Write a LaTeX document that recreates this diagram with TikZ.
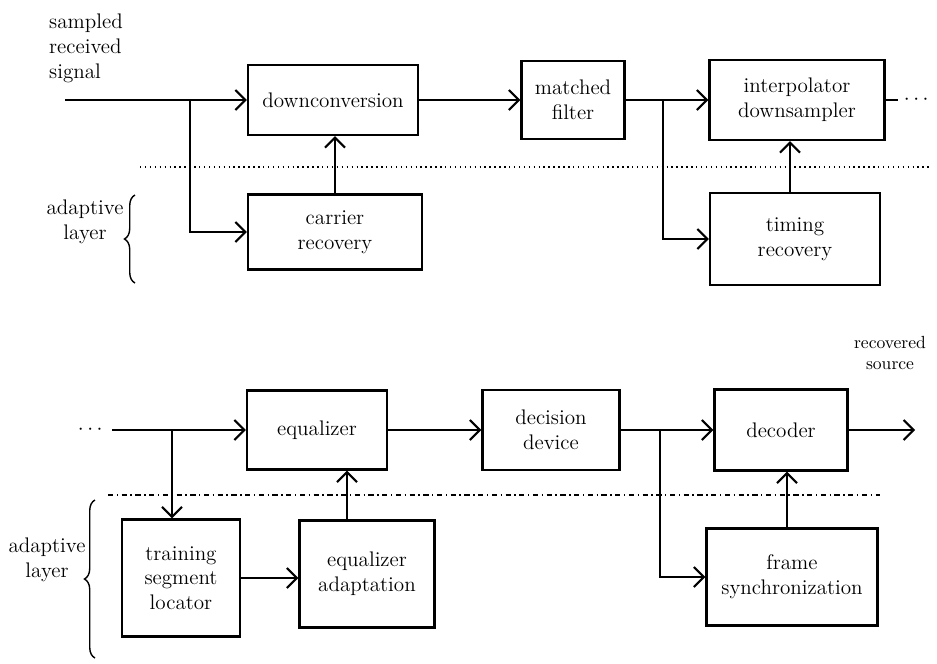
\documentclass[tikz,border=0pt]{standalone}
\usepackage{amsmath,amssymb}
\usetikzlibrary{arrows.meta,decorations.pathreplacing}

\begin{document}
\begin{tikzpicture}[x=0.2mm, y=-0.2mm, every node/.style={font=\large}, >={Straight Barb[length=2mm]},
	blk/.style={draw, line width=1.2pt, align=center, inner sep=0pt},
	sig/.style={line width=1.2pt}]
	\useasboundingbox (0,0) rectangle (937,663);
	% upper row: front end
	\node[align=left, anchor=north west] (sampled) at (43,8) {sampled\\received\\signal};
	\coordinate (in) at (65,100);
	\coordinate (split1) at (190,100);
	\node[blk, minimum width=34mm, minimum height=14mm] (down) at (333,100) {downconversion};
	\node[blk, minimum width=34.8mm, minimum height=15mm] (carrier) at (335,232) {carrier\\recovery};
	\node[blk, minimum width=20.6mm, minimum height=15.6mm] (matched) at (573,100) {matched\\filter};
	\coordinate (split2) at (663,100);
	\node[blk, minimum width=35mm, minimum height=16mm] (interp) at (797,100) {interpolator\\downsampler};
	\node[blk, minimum width=34mm, minimum height=18.4mm] (timing) at (795,239) {timing\\recovery};
	\node (more1) at (918,100) {$\cdots$};
	\draw[sig, ->] (in) -- (down);
	\draw[sig, ->] (split1) |- (carrier);
	\draw[sig, ->] (carrier.north) -- (carrier.north |- down.south);
	\draw[sig, ->] (down) -- (matched);
	\draw[sig, ->] (matched) -- (interp);
	\draw[sig, ->] (split2) |- (timing);
	\draw[sig, ->] ([xshift=-1mm]timing.north) -- ([xshift=-1mm]timing.north |- interp.south);
	\draw[sig] (interp) -- (more1);
	\draw[thick, dotted] (140,167) -- (930,167);
	\node[align=center] (adapt1) at (85,222) {adaptive\\layer};
	\draw[thick, decorate, decoration={brace, amplitude=6pt}] (135,283) -- (135,195);
	% lower row: back end
	\node (more2) at (92,430) {$\cdots$};
	\coordinate (split3) at (172,430);
	\node[blk, minimum width=28mm, minimum height=15.8mm] (eq) at (317,430) {equalizer};
	\node[blk, minimum width=27.4mm, minimum height=16mm] (decision) at (551,430) {decision\\device};
	\coordinate (split4) at (660,430);
	\node[blk, minimum width=26.6mm, minimum height=16.2mm] (decoder) at (781,430) {decoder};
	\coordinate (out) at (915,430);
	\node[align=center, font=\normalsize] (recsrc) at (890,353) {recovered\\source};
	\node[blk, minimum width=23.6mm, minimum height=23.4mm] (train) at (181,578) {training\\segment\\locator};
	\node[blk, minimum width=27mm, minimum height=21.4mm] (eqadapt) at (367,574) {equalizer\\adaptation};
	\node[blk, minimum width=34.2mm, minimum height=19.4mm] (frame) at (792,577) {frame\\synchronization};
	\draw[sig, ->] (more2) -- (eq);
	\draw[sig, ->] (split3) -- (split3 |- train.north);
	\draw[sig, ->] (train.east) -- (train.east -| eqadapt.west);
	\draw[sig, ->] ([xshift=-4mm]eqadapt.north) -- ([xshift=-4mm]eqadapt.north |- eq.south);
	\draw[sig, ->] (eq) -- (decision);
	\draw[sig, ->] (decision) -- (decoder);
	\draw[sig, ->] (split4) |- (frame);
	\draw[sig, ->] ([xshift=-1mm]frame.north) -- ([xshift=-1mm]frame.north |- decoder.south);
	\draw[sig, ->] (decoder) -- (out);
	\draw[thick, dash dot] (108,495) -- (880,495);
	\node[align=center] (adapt2) at (47,560) {adaptive\\layer};
	\draw[thick, decorate, decoration={brace, amplitude=6pt}] (95,658) -- (95,500);
\end{tikzpicture}
\end{document}
